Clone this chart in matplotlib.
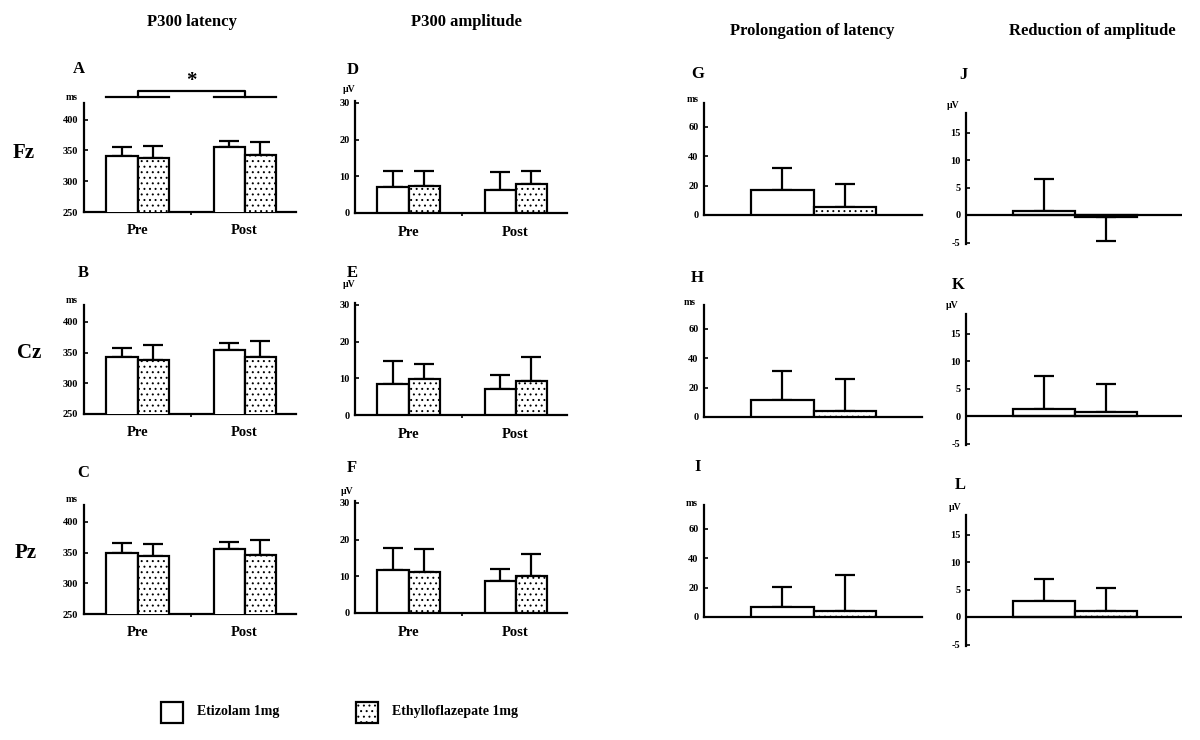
import matplotlib
matplotlib.use("Agg")
import matplotlib.pyplot as plt
from matplotlib.patches import Rectangle

plt.rcParams['font.family'] = ['Liberation Serif', 'DejaVu Serif']
plt.rcParams['font.weight'] = 'bold'
plt.rcParams['hatch.linewidth'] = 0.7

# ---------------- data ----------------
groups = ['Pre', 'Post']
drugs = ['Etizolam 1mg', 'Ethylloflazepate 1mg']
electrodes = ['Fz', 'Cz', 'Pz']

# P300 latency (ms): [electrode][group]
lat_etiz = [[341, 355], [342, 354], [349, 356]]
lat_etiz_sd = [[14, 11], [16, 12], [16, 11]]
lat_ethyl = [[338, 343], [338, 342], [345, 346]]
lat_ethyl_sd = [[19, 21], [24, 27], [19, 24]]

# P300 amplitude (uV)
amp_etiz = [[7.2, 6.3], [8.4, 7.1], [11.7, 8.8]]
amp_etiz_sd = [[4.2, 4.8], [6.3, 3.8], [6.1, 3.1]]
amp_ethyl = [[7.4, 7.9], [9.8, 9.3], [11.3, 10.0]]
amp_ethyl_sd = [[4.0, 3.6], [4.0, 6.6], [6.2, 6.2]]

# Prolongation of latency (ms): per electrode
prol_etiz = [17.0, 11.5, 6.6]
prol_etiz_sd = [14.8, 19.5, 13.6]
prol_ethyl = [5.4, 4.3, 4.3]
prol_ethyl_sd = [15.9, 21.3, 24.3]

# Reduction of amplitude (uV)
red_etiz = [0.7, 1.2, 3.0]
red_etiz_sd = [5.8, 6.0, 3.9]
red_ethyl = [-0.4, 0.7, 1.1]
red_ethyl_sd = [4.3, 5.1, 4.2]

lat_ticks = [250, 300, 350, 400]
amp_ticks = [0, 10, 20, 30]
prol_ticks = [0, 20, 40, 60]
red_ticks = [-5, 0, 5, 10, 15]

letters = [['A', 'D', 'G', 'J'], ['B', 'E', 'H', 'K'], ['C', 'F', 'I', 'L']]
col_titles = ['P300 latency', 'P300 amplitude', 'Prolongation of latency', 'Reduction of amplitude']

# ---------------- figure ----------------
W, H = 1200, 740
fig = plt.figure(figsize=(12, 7.4), dpi=100)


def add_ax(left, right, ybot, ytop):
    return fig.add_axes([left / W, 1 - ybot / H, (right - left) / W, (ybot - ytop) / H])


def ftext(x, y, s, **kw):
    fig.text(x / W, 1 - y / H, s, ha=kw.pop('ha', 'center'), va=kw.pop('va', 'center'),
             fontweight='bold', **kw)


LW = 1.6
HATCH = '...'


def bar_pair(ax, x, w, m1, s1, m2, s2):
    for xc, m, s, hatch in [(x - w / 2, m1, s1, ''), (x + w / 2, m2, s2, HATCH)]:
        ax.bar(xc, m, width=w, facecolor='white', edgecolor='black', linewidth=LW,
               hatch=hatch, zorder=3)
        yerr = [[0], [s]] if m >= 0 else [[s], [0]]
        ax.errorbar(xc, m, yerr=yerr, fmt='none', ecolor='black', elinewidth=LW,
                    capsize=7, capthick=LW, zorder=2)


def style(ax, ticks, ylim):
    ax.set_ylim(*ylim)
    ax.set_yticks(ticks)
    ax.set_yticklabels([str(t) for t in ticks], fontsize=7.5, fontweight='bold')
    ax.tick_params(axis='y', direction='in', length=3, width=1.2, pad=4)
    for sp in ['top', 'right']:
        ax.spines[sp].set_visible(False)
    ax.spines['left'].set_linewidth(LW)
    ax.spines['bottom'].set_linewidth(LW)
    ax.patch.set_alpha(0)


row_y_lat = [212, 414, 614]
row_y_amp = [213, 415, 613]
row_y_prol = [215, 417, 617]
row_y_red = [215, 416, 617]

lat_scale = 0.615
amp_scale = 3.67
prol_scale = 1.47
red_scale = 5.5
lat_lim = (250, 428)
amp_lim = (0, 30.5)
prol_lim = (0, 76)
red_lim = (-5.2, 18.5)

x_pos = [0, 1]
bw = 0.29

for r in range(3):
    # latency
    yb = row_y_lat[r]
    ax = add_ax(84, 296, yb, yb - (lat_lim[1] - lat_lim[0]) * lat_scale)
    style(ax, lat_ticks, lat_lim)
    ax.set_xlim(-0.5, 1.48)
    for g in range(2):
        bar_pair(ax, x_pos[g], bw, lat_etiz[r][g], lat_etiz_sd[r][g],
                 lat_ethyl[r][g], lat_ethyl_sd[r][g])
    ax.set_xticks(x_pos)
    ax.set_xticklabels(groups, fontsize=10.5, fontweight='bold')
    ax.tick_params(axis='x', length=0, pad=9)
    ax.set_xticks([0.5], minor=True)
    ax.tick_params(axis='x', which='minor', length=2, width=1.2, direction='out')
    if r == 0:
        kw = dict(color='black', lw=LW, clip_on=False)
        ax.plot([0 - bw, 0 + bw], [437, 437], **kw)
        ax.plot([1 - bw, 1 + bw], [437, 437], **kw)
        ax.plot([0, 0, 1, 1], [437, 447, 447, 437], **kw)
        ax.text(0.5, 446, '*', ha='center', va='bottom', fontsize=15, fontweight='bold')

    # amplitude
    yb = row_y_amp[r]
    ax = add_ax(355, 567, yb, yb - (amp_lim[1] - amp_lim[0]) * amp_scale)
    style(ax, amp_ticks, amp_lim)
    ax.set_xlim(-0.5, 1.48)
    for g in range(2):
        bar_pair(ax, x_pos[g], bw, amp_etiz[r][g], amp_etiz_sd[r][g],
                 amp_ethyl[r][g], amp_ethyl_sd[r][g])
    ax.set_xticks(x_pos)
    ax.set_xticklabels(groups, fontsize=10.5, fontweight='bold')
    ax.tick_params(axis='x', length=0, pad=9)
    ax.set_xticks([0.5], minor=True)
    ax.tick_params(axis='x', which='minor', length=2, width=1.2, direction='out')

    # prolongation
    yb = row_y_prol[r]
    ax = add_ax(704, 922, yb, yb - (prol_lim[1] - prol_lim[0]) * prol_scale)
    style(ax, prol_ticks, prol_lim)
    ax.set_xlim(-1.75, 1.73)
    bar_pair(ax, 0, 1.0, prol_etiz[r], prol_etiz_sd[r], prol_ethyl[r], prol_ethyl_sd[r])
    ax.set_xticks([])

    # reduction
    y0 = row_y_red[r]
    ax = add_ax(966, 1182, y0 - red_lim[0] * red_scale, y0 - red_lim[1] * red_scale)
    style(ax, red_ticks, red_lim)
    ax.set_xlim(-1.75, 1.73)
    ax.spines['bottom'].set_visible(False)
    ax.axhline(0, color='black', lw=LW, zorder=4)
    bar_pair(ax, 0, 1.0, red_etiz[r], red_etiz_sd[r], red_ethyl[r], red_ethyl_sd[r])
    ax.set_xticks([])

# unit labels
for (x, y) in [(72, 97), (72, 300), (72, 500), (693, 99), (690, 302), (692, 503)]:
    ftext(x, y, 'ms', fontsize=7)
for (x, y) in [(349, 89), (349, 285), (347, 492), (953, 106), (952, 305), (955, 508)]:
    ftext(x, y, 'µV', fontsize=7)

# panel letters
letter_pos = [[(79, 69), (353, 70), (698, 74), (963, 75)],
              [(83, 273), (352, 273), (697, 278), (958, 285)],
              [(83, 473), (352, 468), (698, 467), (960, 485)]]
for r in range(3):
    for c in range(4):
        x, y = letter_pos[r][c]
        ftext(x, y, letters[r][c], fontsize=12)

# electrode labels
for (x, y), e in zip([(24, 153), (29, 353), (26, 553)], electrodes):
    ftext(x, y, e, fontsize=15)

# column titles
for (x, y), t in zip([(192, 22), (466, 22), (812, 31), (1092, 31)], col_titles):
    ftext(x, y, t, fontsize=12)

# legend
fig.patches.append(Rectangle((161 / W, 1 - 723 / H), 22 / W, 21 / H, transform=fig.transFigure,
                             facecolor='white', edgecolor='black', linewidth=LW))
fig.patches.append(Rectangle((356 / W, 1 - 723 / H), 22 / W, 21 / H, transform=fig.transFigure,
                             facecolor='white', edgecolor='black', linewidth=LW, hatch=HATCH))
ftext(197, 712, drugs[0], fontsize=10, ha='left')
ftext(392, 712, drugs[1], fontsize=10, ha='left')

fig.savefig('out.png', dpi=100, facecolor='white')
